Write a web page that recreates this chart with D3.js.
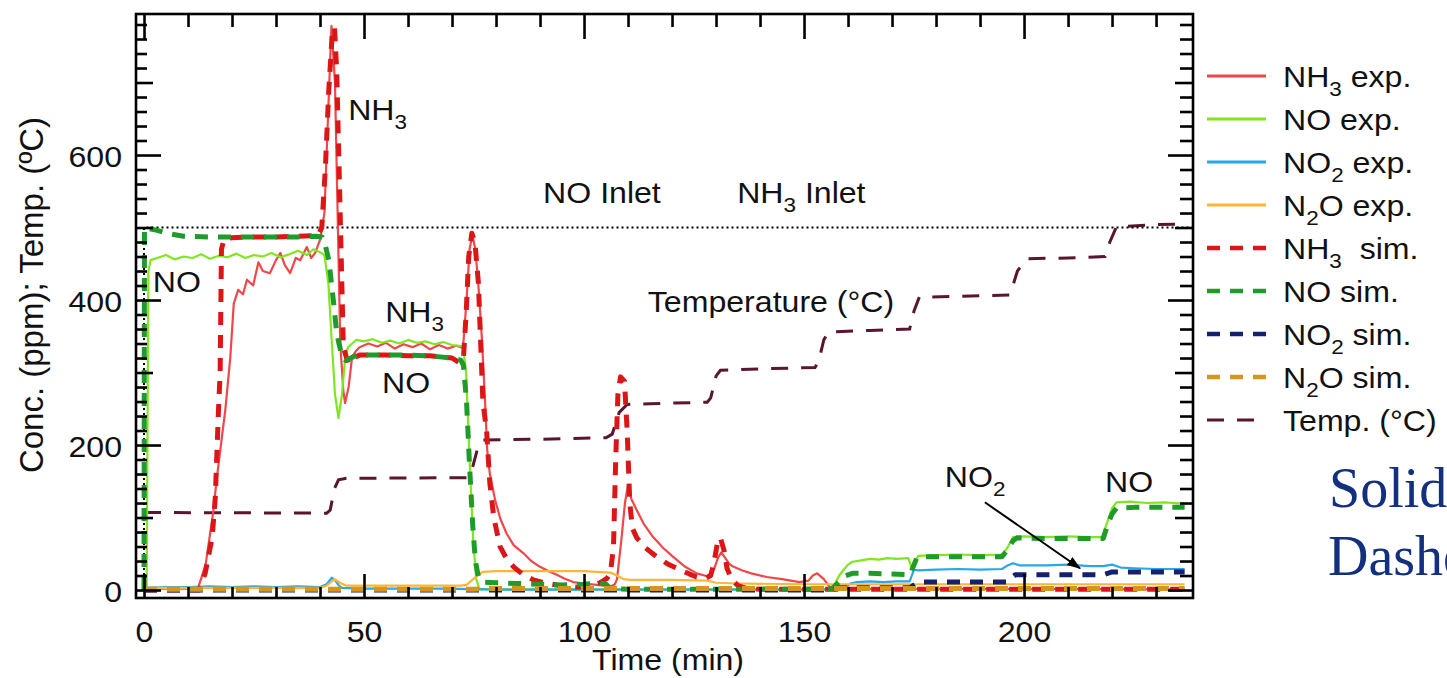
<!DOCTYPE html>
<html>
<head>
<meta charset="utf-8">
<script src="https://cdn.jsdelivr.net/npm/d3@7"></script>
<style>
body { margin: 0; background: #fff; }
text { font-family: "Liberation Sans", Arial, sans-serif; fill: #111; }
</style>
</head>
<body>
<div id="vis"></div>
<script>
// ---- datos: [tiempo (min), valor] ----
const nh3Exp = [[0,2],[11,2],[12.3,3],[14,35],[15.7,106],[16.5,152],[18.5,250],[19.6,320],[20.4,395],[21.4,414],[22.5,408],[23.4,428],[24.8,420],
  [26,452],[27,440],[28.6,437],[30,455],[31,465],[32,448],[33.2,437],[34.5,458],[35.5,455],[37,473],[38,458],[38.9,465],[40,483],
  [41,520],[41.8,650],[42.6,778],[43.4,700],[44,520],[44.6,340],[45.3,275],[45.7,258],[46.5,280],[47.3,322],[48.2,330],[49,335],
  [51,340],[53,336],[55,341],[57,333],[59,339],[61,335],[63,340],[65,332],[67,338],[69,333],[71,337],[72.5,334],[73.3,400],[74,470],
  [74.6,490],[75.3,470],[76,420],[76.8,345],[77.5,262],[78,193],[78.6,160],[79.8,124],[81,98],[82.4,78],[84,62],[86.2,51],[88,40],
  [90,32],[92,26],[93.8,21],[95.5,16],[97.5,11],[100,9],[102.9,7],[106,5],[107,8],[107.5,15],[108.5,70],[109.3,120],[110,145],
  [110.8,125],[112,110],[113.5,92],[115.7,73],[118,58],[120.2,46],[123,32],[125.6,23],[128,19],[129.5,28],[130.5,45],[131.2,52],
  [132,45],[133,36],[134,32],[136,27],[138,23],[141.5,18],[145,15],[149,11],[151,13],[152,20],[153,23],[154.5,15],[156,3],[160,2],[236.5,1]];

const noExp = [[0,0],[0.6,0],[1,440],[1.5,455],[3,458],[5,462],[7,456],[9,460],[11,458],[13,463],[15,457],[17,461],[19,459],[21,464],
  [23,458],[25,462],[27,460],[29,465],[31,459],[33,463],[35,468],[37,462],[38.5,470],[40,466],[41,462],[41.9,423],[42.6,350],
  [43.4,270],[44.2,237],[45,270],[45.7,320],[46.4,335],[47.3,340],[48.3,345],[50,343],[52,346],[54,341],[56,344],[58,340],[60,345],
  [62,341],[64,343],[66,339],[68,342],[70,338],[72.5,336],[73.2,300],[74,180],[74.8,70],[75.5,15],[76.2,2],[80,1],[155.5,1],[157,8],
  [158,20],[159,28],[160,35],[161,39],[163,41],[165,43],[167,42],[169,44],[171,43],[173.7,44],[174.5,30],[175.2,40],[176,47],[180,48],
  [185,49],[190,48],[195,49],[196.2,58],[197.5,73],[200,74],[205,73],[210,74],[215,73],[217.7,73],[219,95],[220,113],[221,121],
  [224,122],[228,120],[232,121],[236.5,119]];

const no2Exp = [[0,3],[5,4],[10,4],[15,5],[20,4],[25,5],[30,4],[35,5],[40,4],[41.5,8],[42.7,17],[43.5,13],[44.3,6],[45,3],[50,2],
  [60,2],[70,2],[75,1],[80,0.5],[150,0.5],[159,1],[160.5,9],[162,11],[165,12],[168,11],[171,12],[174,12],[175,28],[176,27],[180,28],
  [185,29],[190,28],[195,29],[196,33],[197.5,37],[199,34],[205,34],[210,35],[215,33],[218,33],[220,35],[222,31],[225,30],[230,29],[236.5,29]];

const n2oExp = [[0,3],[10,3],[20,3],[30,3],[40,3],[41.5,6],[43.3,15],[44.5,10],[46,6],[55,6],[65,6],[72,6],[73.3,7],[75,16],[77,25],
  [80,26],[90,26],[100,26],[106,24],[107.5,20],[109,15],[110.5,14],[120,14],[128,13],[130,10],[135,9],[150,8],[170,8],[200,8],[236.5,8]];

const nh3Sim = [[0,0],[12.5,0],[13.9,23],[15.5,73],[16.2,128],[16.9,244],[17.3,300],[17.6,470],[18.2,484],[20,486],[25,487],[30,487],
  [35,488],[39.5,489],[40.4,500],[41.2,580],[42,690],[42.8,770],[43.3,776],[43.8,715],[44.5,540],[45.3,335],[46.4,313],[47.5,320],
  [49,324],[55,324],[60,323],[65,323],[70,320],[71.8,313],[72.6,320],[73.2,380],[73.8,460],[74.5,492],[75.2,480],[76,423],[77,262],
  [77.9,216],[78.6,147],[79.5,100],[80.9,60],[82.5,42],[84,32],[86,22],[88.5,14],[91,10],[93.8,7],[96,5],[99,4],[101,5],[103.6,10],
  [105.2,16],[106,23],[106.7,60],[107.2,180],[107.7,270],[108.3,294],[109.2,288],[109.8,220],[110.4,120],[111,85],[112,72],[114,58],
  [116.5,46],[119,36],[121.8,28],[124,22],[125.6,18],[127.5,16],[128.8,20],[129.6,40],[130.4,68],[131,72],[131.8,55],[132.5,30],
  [133.5,15],[135,6],[137,2],[140,1],[236.5,1]];

const noSim = [[0,0],[0.1,500],[3,496],[6,491],[9,488],[15,487],[25,487],[35,487],[39,488],[40.5,487],[41.1,478],[42,455],[42.6,423],
  [43.2,390],[43.8,354],[44.5,335],[45,322],[45.8,317],[47,320],[48.3,324],[55,324],[60,324],[65,323],[70,320],[72,317],[72.6,310],
  [73.3,260],[74,170],[74.7,90],[75.3,40],[76,18],[77,11],[80,10],[85,9],[90,8],[95,7],[100,8],[103.6,10],[105,8],[106,2],[110,1],
  [155.5,1],[156.6,3],[158,12],[159.5,20],[161,23],[165,23],[170,22],[174.1,21],[174.8,32],[175.6,44],[177,46],[185,46],[195,46],
  [196.2,55],[197.5,68],[198.4,72],[205,71],[212,71],[218,71],[219,90],[220,105],[221,113],[225,114],[230,114],[236.5,114]];

const no2Sim = [[0,0],[100,0],[156,0],[158,3],[174,3],[176,11],[196,11],[198,21],[218,21],[220,25],[236.5,25]];

const n2oSim = [[0,1],[75,1],[78,2],[236.5,2]];

const tempC = [[0,107],[41.5,106],[42.3,110],[43.3,140],[44.2,152],[46,154],[73.5,155],[74.5,165],[76,200],[77,207],[90,208],[105,210],
  [106.4,215],[108,245],[109.8,256],[115,257],[128,259],[128.8,265],[130,295],[131,303],[140,305],[152.5,307],[153.3,315],[154.5,345],
  [155.5,356],[165,358],[174,360],[175,385],[176.2,404],[185,405],[196.8,407],[198.5,440],[200.6,457],[210,458],[218.4,460],
  [219.5,480],[221,501],[230,504],[236.5,505]];

const inlet = [[0,0],[0,500],[240,500]];

// ticks
const xTicks = [0, 50, 100, 150, 200];
const yTicks = [0, 200, 400, 600];
const yMidTicks = [100, 300, 500, 700];

// leyenda / series
const series = [
  {label: "NH_3 exp.",       data: nh3Exp, color: "#f0474b", width: 2.2, dash: null},
  {label: "NO exp.",         data: noExp,  color: "#80e620", width: 2.2, dash: null},
  {label: "NO_2 exp.",       data: no2Exp, color: "#2ba6e8", width: 2.2, dash: null},
  {label: "N_2O exp.",       data: n2oExp, color: "#ffb53a", width: 2.2, dash: null},
  {label: "NH_3\u00a0 sim.", data: nh3Sim, color: "#dc1616", width: 5,   dash: "13,10"},
  {label: "NO sim.",         data: noSim,  color: "#1f9b2b", width: 5,   dash: "13,10"},
  {label: "NO_2 sim.",       data: no2Sim, color: "#15216f", width: 5,   dash: "13,10"},
  {label: "N_2O sim.",       data: n2oSim, color: "#d4961f", width: 5,   dash: "13,10"},
  {label: "Temp. (°C)",      data: tempC,  color: "#5b1530", width: 3,   dash: "17,13"}
];

// anotaciones en coordenadas de datos
const notes = [
  {text: "NH_3", t: 46.4, v: 648},
  {text: "NO", t: 2.0, v: 411},
  {text: "NH_3", t: 54.8, v: 370},
  {text: "NO", t: 54.1, v: 272},
  {text: "NO Inlet", t: 90.7, v: 534},
  {text: "NH_3 Inlet", t: 134.8, v: 534},
  {text: "Temperature (°C)", t: 114.5, v: 383},
  {text: "NO_2", t: 182, v: 142},
  {text: "NO", t: 218.4, v: 135}
];
const arrowFrom = [191.1, 121];
const arrowTo = [212.7, 30];

const WIDTH = 1447;
const HEIGHT = 678;
const m = {left: 136, right: 1193, top: 14, bottom: 598};
const FS = 30;       // tamaño de letra
const SX = 1.07;     // el original esta un poco estirado en horizontal

const SVG = d3.select("#vis").append("svg").attr("width", WIDTH).attr("height", HEIGHT);
SVG.append("rect").attr("width", WIDTH).attr("height", HEIGHT).attr("fill", "#fff");

const x = d3.scaleLinear().domain([-1.82, 238.4]).range([m.left, m.right]);
const y = d3.scaleLinear().domain([-11, 794.5]).range([m.bottom, m.top]);

// texto con subindices: "NH_3 exp." -> NH, 3 (sub), " exp."
function rich(sel, str, size, subSize) {
  const parts = str.split(/_(\d)/);
  parts.forEach((p, i) => {
    if (!p) return;
    const sub = i % 2 === 1;
    sel.append("tspan")
      .attr("font-size", sub ? subSize : size)
      .attr("dy", sub ? 9 : (i > 0 ? -9 : 0))
      .text(p);
  });
}

SVG.append("clipPath").attr("id", "clip").append("rect")
  .attr("x", m.left).attr("y", m.top).attr("width", m.right - m.left).attr("height", m.bottom - m.top);

const line = d3.line().x(d => x(d[0])).y(d => y(d[1]));
const plotG = SVG.append("g").attr("clip-path", "url(#clip)");

// temperatura debajo, luego linea de entrada, luego exp. y sim.
const tempS = series[8];
plotG.append("path").datum(tempS.data).attr("d", line).attr("fill", "none")
  .attr("stroke", tempS.color).attr("stroke-width", tempS.width).attr("stroke-dasharray", tempS.dash);

plotG.append("path").datum(inlet).attr("d", line).attr("fill", "none")
  .attr("stroke", "#000").attr("stroke-width", 2).attr("stroke-dasharray", "2,3");

series.slice(0, 8).forEach(s => {
  plotG.append("path").datum(s.data).attr("d", line).attr("fill", "none")
    .attr("stroke", s.color).attr("stroke-width", s.width)
    .attr("stroke-dasharray", s.dash)
    .attr("stroke-linejoin", "round");
});

// ejes (ticks hacia adentro)
const minorX = d3.range(10, 240, 10).filter(v => v % 50 !== 0);
const minorY = d3.range(20, 790, 20).filter(v => v % 100 !== 0);

function tickSet(axisFn, vals, len, tx, ty) {
  const g = SVG.append("g").attr("transform", `translate(${tx},${ty})`)
    .call(axisFn.tickValues(vals).tickSizeInner(-len).tickSizeOuter(0).tickFormat(""));
  g.select(".domain").remove();
  g.selectAll("line").attr("stroke", "#000").attr("stroke-width", 2.6);
  return g;
}
tickSet(d3.axisBottom(x), minorX, 11, 0, m.bottom);
tickSet(d3.axisTop(x), minorX, 13, 0, m.top);
tickSet(d3.axisTop(x), xTicks, 25, 0, m.top);
tickSet(d3.axisLeft(y), minorY, 11, m.left, 0);
tickSet(d3.axisLeft(y), yMidTicks, 17, m.left, 0);
tickSet(d3.axisRight(y), minorY, 13, m.right, 0);
tickSet(d3.axisRight(y), yMidTicks, 18, m.right, 0);
tickSet(d3.axisRight(y), yTicks, 25, m.right, 0);

const ejeX = SVG.append("g").attr("transform", `translate(0,${m.bottom})`)
  .call(d3.axisBottom(x).tickValues(xTicks).tickSizeInner(-24).tickSizeOuter(0));
ejeX.select(".domain").remove();
ejeX.selectAll("line").attr("stroke", "#000").attr("stroke-width", 2.6);
ejeX.selectAll("text").attr("y", 44).attr("dy", 0).attr("font-size", FS)
  .attr("fill", "#111").attr("transform", `scale(${SX},1)`);

const ejeY = SVG.append("g").attr("transform", `translate(${m.left},0)`)
  .call(d3.axisLeft(y).tickValues(yTicks).tickSizeInner(-25).tickSizeOuter(0));
ejeY.select(".domain").remove();
ejeY.selectAll("line").attr("stroke", "#000").attr("stroke-width", 2.6);
ejeY.selectAll("text").attr("x", -14 / SX).attr("dy", 11).attr("font-size", FS)
  .attr("fill", "#111").attr("transform", `scale(${SX},1)`);

// marco
SVG.append("rect").attr("x", m.left).attr("y", m.top)
  .attr("width", m.right - m.left).attr("height", m.bottom - m.top)
  .attr("fill", "none").attr("stroke", "#000").attr("stroke-width", 2.6);

// titulos de ejes
SVG.append("text").attr("transform", `translate(668,670) scale(${SX},1)`)
  .attr("text-anchor", "middle").attr("font-size", FS).text("Time (min)");
SVG.append("text").attr("transform", "translate(43,295) rotate(-90)")
  .attr("text-anchor", "middle").attr("font-size", 33).text("Conc. (ppm); Temp. (ºC)");

// anotaciones
notes.forEach(n => {
  const t = SVG.append("text")
    .attr("transform", `translate(${x(n.t)},${y(n.v)}) scale(${SX},1)`)
    .attr("font-size", FS);
  rich(t, n.text, FS, 21);
});

SVG.append("defs").append("marker").attr("id", "head")
  .attr("viewBox", "0 0 10 10").attr("refX", 9).attr("refY", 5)
  .attr("markerWidth", 7).attr("markerHeight", 7).attr("markerUnits", "strokeWidth")
  .attr("orient", "auto")
  .append("path").attr("d", "M0,1.5L10,5L0,8.5Z").attr("fill", "#000");
SVG.append("line")
  .attr("x1", x(arrowFrom[0])).attr("y1", y(arrowFrom[1]))
  .attr("x2", x(arrowTo[0])).attr("y2", y(arrowTo[1]))
  .attr("stroke", "#000").attr("stroke-width", 2).attr("marker-end", "url(#head)");

// leyenda
const leg = SVG.append("g").attr("transform", "translate(1207,76)");
series.forEach((s, i) => {
  const row = leg.append("g").attr("transform", `translate(0,${i * 43})`);
  row.append("line").attr("x1", 0).attr("x2", i === 8 ? 53 : 59).attr("y1", 0).attr("y2", 0)
    .attr("stroke", s.color)
    .attr("stroke-width", s.dash ? Math.min(s.width, 4.5) : 3)
    .attr("stroke-dasharray", s.dash);
  const t = row.append("text").attr("transform", `translate(76,10.5) scale(${SX},1)`).attr("font-size", FS);
  rich(t, s.label, FS, 21);
});

// texto azul en el borde derecho (en el original sigue fuera de la imagen)
const serif = "'Liberation Serif', 'Times New Roman', serif";
SVG.append("text").attr("x", 1329).attr("y", 507).attr("font-size", 56)
  .style("font-family", serif).style("fill", "#12307f").text("Solid");
SVG.append("text").attr("x", 1328).attr("y", 575).attr("font-size", 56)
  .style("font-family", serif).style("fill", "#12307f").text("Dashed");
</script>
</body>
</html>
